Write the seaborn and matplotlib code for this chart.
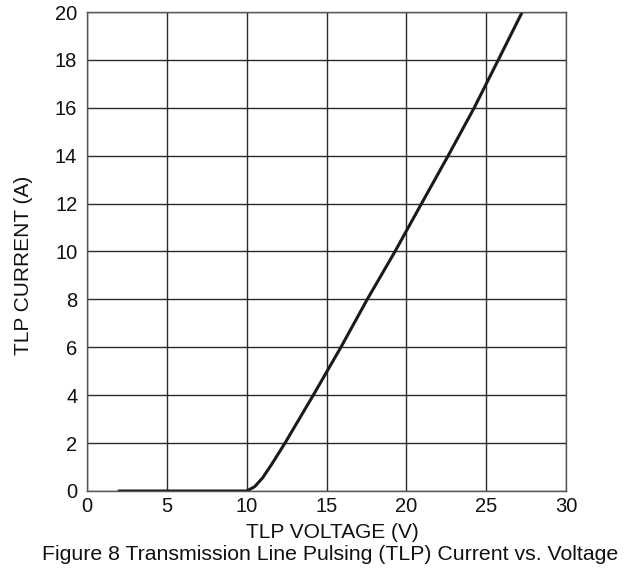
import matplotlib
matplotlib.use("Agg")
import matplotlib.pyplot as plt
import seaborn as sns
import pandas as pd

voltage = [2.0, 10.0, 10.5, 11.0, 11.6, 12.4, 14.17, 15.9, 17.55, 19.29, 20.95, 22.62, 24.25, 25.76, 27.26]
current = [0.0, 0.0, 0.18, 0.55, 1.15, 2.0, 4.0, 6.0, 8.0, 10.0, 12.0, 14.0, 16.0, 18.0, 20.0]
x_ticks = [0, 5, 10, 15, 20, 25, 30]
y_ticks = [0, 2, 4, 6, 8, 10, 12, 14, 16, 18, 20]

sns.set_theme(style="white")
plt.rcParams['font.family'] = ['Liberation Sans', 'DejaVu Sans']

df = pd.DataFrame({"V": voltage, "I": current})

fig = plt.figure(figsize=(6.36, 5.69), dpi=100)
ax = fig.add_axes([87/636, 78/569, 479/636, 479/569])

sns.lineplot(data=df, x="V", y="I", ax=ax, color="#1a1a1a", linewidth=2.2, sort=False)

ax.set_xlim(0, 30)
ax.set_ylim(0, 20)
ax.set_xticks(x_ticks)
ax.set_yticks(y_ticks)
ax.grid(True, color="#2a2a2a", linewidth=1.0)
ax.set_axisbelow(True)
for s in ax.spines.values():
    s.set_color("#555555")
    s.set_linewidth(1.0)
ax.tick_params(axis="both", length=0, labelsize=14.5, colors="#111111")
ax.tick_params(axis="x", pad=4)
ax.tick_params(axis="y", pad=7)

ax.set_xlabel("")
ax.set_ylabel("")
ax.text(0.5125, -0.098, "TLP VOLTAGE (V)", transform=ax.transAxes, ha="center",
        va="baseline", fontsize=15, color="#111111")
ax.text(-0.1326, 0.47, "TLP CURRENT (A)", transform=ax.transAxes, ha="center",
        va="center", rotation=90, fontsize=15, color="#111111")
fig.text(330.5/636, 9/569, "Figure 8 Transmission Line Pulsing (TLP) Current vs. Voltage",
         ha="center", va="baseline", fontsize=15.3, color="#111111")

fig.savefig("out.png", dpi=100)
